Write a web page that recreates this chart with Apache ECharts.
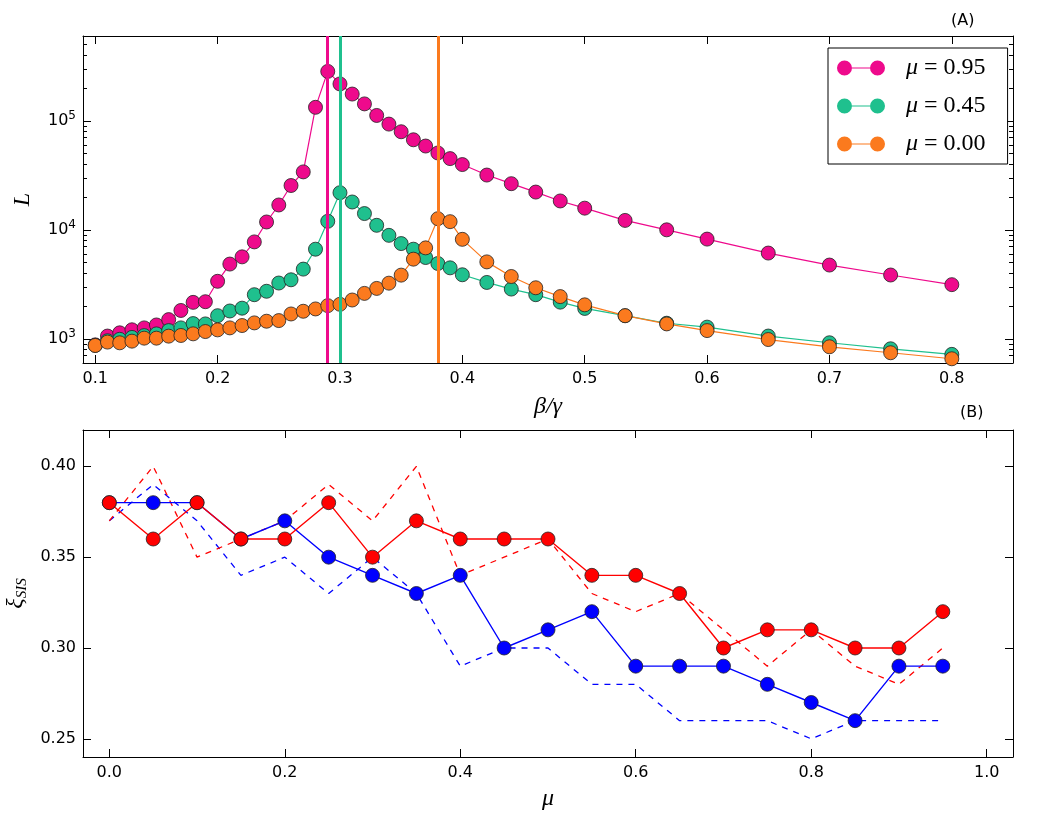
<!DOCTYPE html>
<html>
<head>
<meta charset="utf-8">
<script src="https://cdn.jsdelivr.net/npm/echarts@6.0.0/dist/echarts.min.js"></script>
<style>
  html, body { margin: 0; padding: 0; background: #fff; }
  #main { width: 1049px; height: 814px; }
</style>
</head>
<body>
<div id="main"></div>
<script>
// ---- panel (A): L against beta/gamma ----
const beta = [0.10, 0.11, 0.12, 0.13, 0.14, 0.15, 0.16, 0.17, 0.18, 0.19,
  0.20, 0.21, 0.22, 0.23, 0.24, 0.25, 0.26, 0.27, 0.28, 0.29,
  0.30, 0.31, 0.32, 0.33, 0.34, 0.35, 0.36, 0.37, 0.38, 0.39, 0.40,
  0.42, 0.44, 0.46, 0.48, 0.50, 0.533, 0.567, 0.60, 0.65, 0.70, 0.75, 0.80];

const lMu095 = [880, 1060, 1135, 1210, 1260, 1340, 1500, 1820, 2160, 2190,
  3370, 4850, 5650, 7750, 11800, 16900, 25500, 34000, 133000, 284000,
  218000, 176000, 143000, 112000, 93300, 79400, 67000, 58700, 50700, 45000, 39700,
  31800, 26500, 22200, 18400, 15800, 12200, 10000, 8220, 6120, 4750, 3850, 3140];

const lMu045 = [870, 960, 990, 1030, 1070, 1110, 1190, 1260, 1380, 1370,
  1630, 1800, 1910, 2540, 2730, 3250, 3480, 4360, 6640, 11970,
  21900, 18000, 14100, 11000, 8900, 7480, 6640, 5570, 4910, 4480, 3870,
  3290, 2860, 2540, 2170, 1900, 1630, 1390, 1280, 1060, 920, 810, 720];

const lMu000 = [869, 933, 919, 952, 1014, 1014, 1058, 1073, 1111, 1166,
  1208, 1260, 1324, 1400, 1450, 1470, 1690, 1790, 1880, 2015,
  2073, 2270, 2610, 2900, 3240, 3840, 5380, 6830, 12650, 11880, 8180,
  5080, 3730, 2940, 2440, 2050, 1630, 1370, 1190, 985, 845, 745, 656];

const muNames = ['0.95', '0.45', '0.00'];
const peakBeta = [0.29, 0.30, 0.38];
const colorsA = ['#ee0a8c', '#1fc08e', '#fb7a1e'];

const betaTicks = [0.1, 0.2, 0.3, 0.4, 0.5, 0.6, 0.7, 0.8];
const lMajor = [1000, 10000, 100000];

// ---- panel (B): xi_SIS against mu ----
const mu = [0.00, 0.05, 0.10, 0.15, 0.20, 0.25, 0.30, 0.35, 0.40, 0.45,
  0.50, 0.55, 0.60, 0.65, 0.70, 0.75, 0.80, 0.85, 0.90, 0.95];
const xiRed = [0.38, 0.36, 0.38, 0.36, 0.36, 0.38, 0.35, 0.37, 0.36, 0.36,
  0.36, 0.34, 0.34, 0.33, 0.30, 0.31, 0.31, 0.30, 0.30, 0.32];
const xiBlue = [0.38, 0.38, 0.38, 0.36, 0.37, 0.35, 0.34, 0.33, 0.34, 0.30,
  0.31, 0.32, 0.29, 0.29, 0.29, 0.28, 0.27, 0.26, 0.29, 0.29];
const xiRedDashed = [0.37, 0.40, 0.35, 0.36, 0.37, 0.39, 0.37, 0.40, 0.34, 0.35,
  0.36, 0.33, 0.32, 0.33, 0.31, 0.29, 0.31, 0.29, 0.28, 0.30];
const xiBlueDashed = [0.37, 0.39, 0.37, 0.34, 0.35, 0.33, 0.35, 0.33, 0.29, 0.30,
  0.30, 0.28, 0.28, 0.26, 0.26, 0.26, 0.25, 0.26, 0.26, 0.26];

const muTicks = [0.0, 0.2, 0.4, 0.6, 0.8, 1.0];
const xiTicks = [0.25, 0.30, 0.35, 0.40];

// minor ticks of the log axis: 2..9 times each decade
const lMinor = [];
[100, 1000, 10000, 100000].forEach(function (d) {
  for (let k = 2; k <= 9; k++) {
    const v = k * d;
    if (v > 600 && v < 600000) lMinor.push(v);
  }
});

const pair = (xs, ys) => xs.map((x, i) => [x, ys[i]]);

const labelFont = { fontFamily: 'DejaVu Sans', fontSize: 16, color: '#000' };
const black = { color: '#000', width: 1 };

function tickAxis(extra) {
  return Object.assign({
    axisLine: { show: true, onZero: false, lineStyle: black },
    axisTick: { show: true, inside: true, length: 8, lineStyle: black },
    axisLabel: { show: false },
    splitLine: { show: false }
  }, extra);
}

var myChart = echarts.init(document.getElementById('main'), null, { renderer: 'canvas' });

const legendIcon = 'path://M0,7.5a7.5,7.5 0 1,0 15,0a7.5,7.5 0 1,0 -15,0z' +
  'M15,6.9h18v1.2h-18z' +
  'M33,7.5a7.5,7.5 0 1,0 15,0a7.5,7.5 0 1,0 -15,0z';

var series = [];
const aData = [lMu095, lMu045, lMu000];
aData.forEach(function (ys, i) {
  series.push({
    name: 'mu' + muNames[i],
    type: 'line',
    xAxisIndex: 0,
    yAxisIndex: 0,
    data: pair(beta, ys),
    symbol: 'circle',
    symbolSize: 14,
    lineStyle: { color: colorsA[i], width: 1.2 },
    itemStyle: { color: colorsA[i], borderColor: '#222', borderWidth: 0.8 },
    markLine: {
      silent: true,
      symbol: ['none', 'none'],
      label: { show: false },
      lineStyle: { color: colorsA[i], width: 3, type: 'solid' },
      data: [{ xAxis: peakBeta[i] }]
    }
  });
});

function dashed(ys, color) {
  return {
    type: 'line', xAxisIndex: 2, yAxisIndex: 4,
    data: pair(mu, ys), symbol: 'none',
    lineStyle: { color: color, width: 1.3, type: [6, 6] }
  };
}
function solid(ys, color) {
  return {
    type: 'line', xAxisIndex: 2, yAxisIndex: 4,
    data: pair(mu, ys), symbol: 'circle', symbolSize: 14,
    lineStyle: { color: color, width: 1.4 },
    itemStyle: { color: color, borderColor: '#222', borderWidth: 0.8 }
  };
}
series.push(dashed(xiBlueDashed, '#0000ff'));
series.push(dashed(xiRedDashed, '#ff0000'));
series.push(solid(xiBlue, '#0000ff'));
series.push(solid(xiRed, '#ff0000'));

var option = {
  animation: false,
  backgroundColor: '#fff',
  title: [
    { text: '(A)', left: 946, top: 8, textStyle: { fontFamily: 'DejaVu Sans', fontSize: 16, fontWeight: 'normal', color: '#000' } },
    { text: '(B)', left: 955, top: 400, textStyle: { fontFamily: 'DejaVu Sans', fontSize: 16, fontWeight: 'normal', color: '#000' } }
  ],
  legend: {
    data: aData.map((d, i) => ({ name: 'mu' + muNames[i], icon: legendIcon })),
    orient: 'vertical',
    left: 828,
    top: 48,
    padding: [8, 22, 8, 9],
    itemWidth: 48,
    itemHeight: 15,
    itemGap: 14,
    borderColor: '#000',
    borderWidth: 1,
    backgroundColor: '#fff',
    itemStyle: { borderWidth: 0 },
    selectedMode: false,
    formatter: function (name) {
      return '{m|\u03bc}{t| = ' + name.slice(2) + '}';
    },
    textStyle: {
      padding: [0, 0, 0, 16],
      lineHeight: 24,
      rich: {
        m: { fontFamily: 'Liberation Serif', fontStyle: 'italic', fontSize: 24, color: '#000' },
        t: { fontFamily: 'Liberation Serif', fontSize: 24, color: '#000' }
      }
    }
  },
  grid: [
    { left: 83, top: 36, right: 36, height: 327, outerBoundsMode: 'none' },
    { left: 83, top: 430, right: 36, height: 327, outerBoundsMode: 'none' }
  ],
  xAxis: [
    tickAxis({
      type: 'value', gridIndex: 0, position: 'bottom', min: 0.09, max: 0.85,
      name: '\u03b2/\u03b3', nameLocation: 'middle', nameGap: 32,
      nameTextStyle: { fontFamily: 'Liberation Serif', fontStyle: 'italic', fontSize: 24, color: '#000' },
      axisTick: { show: true, inside: true, length: 8, lineStyle: black, customValues: betaTicks },
      axisLabel: Object.assign({ show: true, margin: 8, customValues: betaTicks,
        formatter: v => v.toFixed(1) }, labelFont)
    }),
    tickAxis({
      type: 'value', gridIndex: 0, position: 'top', min: 0.09, max: 0.85,
      axisTick: { show: true, inside: true, length: 8, lineStyle: black, customValues: betaTicks }
    }),
    tickAxis({
      type: 'value', gridIndex: 1, position: 'bottom', min: -0.03, max: 1.03,
      name: '\u03bc', nameLocation: 'middle', nameGap: 30,
      nameTextStyle: { fontFamily: 'Liberation Serif', fontStyle: 'italic', fontSize: 24, color: '#000' },
      axisTick: { show: true, inside: true, length: 8, lineStyle: black, customValues: muTicks },
      axisLabel: Object.assign({ show: true, margin: 8, customValues: muTicks,
        formatter: v => v.toFixed(1) }, labelFont)
    }),
    tickAxis({
      type: 'value', gridIndex: 1, position: 'top', min: -0.03, max: 1.03,
      axisTick: { show: true, inside: true, length: 8, lineStyle: black, customValues: muTicks }
    })
  ],
  yAxis: [
    tickAxis({
      type: 'log', gridIndex: 0, position: 'left', min: 600, max: 600000,
      name: 'L', nameLocation: 'middle', nameGap: 48,
      nameTextStyle: { fontFamily: 'Liberation Serif', fontStyle: 'italic', fontSize: 24, color: '#000' },
      axisTick: { show: true, inside: true, length: 8, lineStyle: black, customValues: lMajor },
      axisLabel: Object.assign({ show: true, margin: 7, customValues: lMajor,
        formatter: v => '{b|10}{s|' + Math.round(Math.log10(v)) + '}',
        rich: {
          b: { fontFamily: 'DejaVu Sans', fontSize: 16, lineHeight: 22, color: '#000' },
          s: { fontFamily: 'DejaVu Sans', fontSize: 12, lineHeight: 22, verticalAlign: 'top', color: '#000' }
        } }, labelFont)
    }),
    tickAxis({
      type: 'log', gridIndex: 0, position: 'left', min: 600, max: 600000,
      axisLine: { show: false },
      axisTick: { show: true, inside: true, length: 4, lineStyle: black, customValues: lMinor }
    }),
    tickAxis({
      type: 'log', gridIndex: 0, position: 'right', min: 600, max: 600000,
      axisTick: { show: true, inside: true, length: 8, lineStyle: black, customValues: lMajor }
    }),
    tickAxis({
      type: 'log', gridIndex: 0, position: 'right', min: 600, max: 600000,
      axisLine: { show: false },
      axisTick: { show: true, inside: true, length: 4, lineStyle: black, customValues: lMinor }
    }),
    tickAxis({
      type: 'value', gridIndex: 1, position: 'left', min: 0.24, max: 0.42,
      name: '{x|\u03be}{s|SIS}', nameLocation: 'middle', nameGap: 52,
      nameTextStyle: {
        color: '#000',
        rich: {
          x: { fontFamily: 'Liberation Serif', fontStyle: 'italic', fontSize: 24, lineHeight: 28, color: '#000' },
          s: { fontFamily: 'Liberation Serif', fontStyle: 'italic', fontSize: 15, lineHeight: 28, verticalAlign: 'bottom', padding: [8, 0, 0, 0], color: '#000' }
        }
      },
      axisTick: { show: true, inside: true, length: 8, lineStyle: black, customValues: xiTicks },
      axisLabel: Object.assign({ show: true, margin: 7, customValues: xiTicks,
        formatter: v => v.toFixed(2) }, labelFont)
    }),
    tickAxis({
      type: 'value', gridIndex: 1, position: 'right', min: 0.24, max: 0.42,
      axisTick: { show: true, inside: true, length: 8, lineStyle: black, customValues: xiTicks }
    })
  ],
  series: series
};

myChart.setOption(option);
</script>
</body>
</html>
